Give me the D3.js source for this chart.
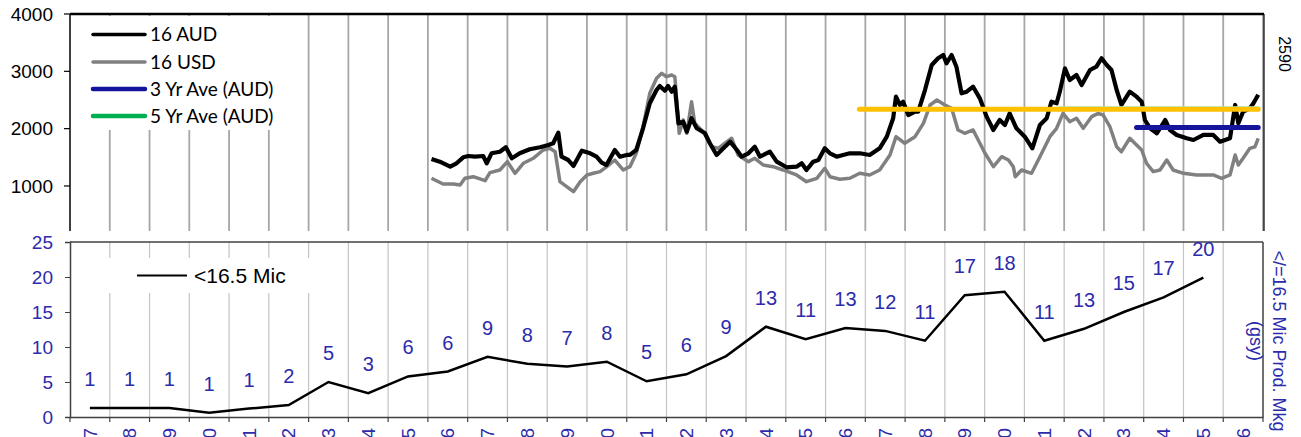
<!DOCTYPE html>
<html>
<head>
<meta charset="utf-8">
<script src="https://cdn.jsdelivr.net/npm/d3@7"></script>
<style>
  body { margin: 0; background: #fff; }
  svg { display: block; }
</style>
</head>
<body>
<div id="chart"></div>
<script>
// Categories (years) for the lower panel and grid
const years = d3.range(1997, 2027);
const yearLabels = years.map(d => String(d));

// Lower panel: <16.5 micron production (mkg, gsy)
const micYears = d3.range(1997, 2026);
const micValues = [1.3, 1.3, 1.3, 0.6, 1.2, 1.7, 5.0, 3.4, 5.8, 6.5, 8.6, 7.6, 7.2, 7.9, 5.1,
  6.1, 8.7, 12.9, 11.1, 12.7, 12.3, 10.9, 17.4, 17.9, 10.9, 12.6, 15.0, 17.1, 19.9];
const micLabels = ["1", "1", "1", "1", "1", "2", "5", "3", "6", "6", "9", "8", "7", "8", "5",
  "6", "9", "13", "11", "13", "12", "11", "17", "18", "11", "13", "15", "17", "20"];

// Upper panel: 16 micron indicator, AUD
const audDates = [2006.09, 2006.30, 2006.56, 2006.72, 2006.89, 2007.02, 2007.18, 2007.39, 2007.48, 2007.60,
  2007.81, 2007.96, 2008.11, 2008.31, 2008.56, 2008.82, 2009.03, 2009.15, 2009.28, 2009.36, 2009.53, 2009.66,
  2009.87, 2010.08, 2010.24, 2010.37, 2010.49, 2010.70, 2010.83, 2011.00, 2011.08, 2011.24, 2011.41, 2011.58,
  2011.75, 2011.83, 2011.96, 2012.04, 2012.13, 2012.21, 2012.30, 2012.42, 2012.51, 2012.63, 2012.76, 2012.97,
  2013.09, 2013.26, 2013.43, 2013.60, 2013.77, 2013.89, 2014.06, 2014.22, 2014.35, 2014.60, 2014.77, 2015.02,
  2015.27, 2015.40, 2015.52, 2015.69, 2015.82, 2015.98, 2016.11, 2016.28, 2016.44, 2016.61, 2016.86, 2017.11,
  2017.36, 2017.54, 2017.70, 2017.77, 2017.87, 2017.95, 2018.08, 2018.25, 2018.33, 2018.50, 2018.67, 2018.83,
  2018.96, 2019.04, 2019.17, 2019.29, 2019.42, 2019.55, 2019.71, 2019.88, 2020.05, 2020.22, 2020.38, 2020.51,
  2020.63, 2020.80, 2021.01, 2021.20, 2021.39, 2021.56, 2021.68, 2021.81, 2021.89, 2022.02, 2022.14, 2022.31,
  2022.44, 2022.65, 2022.81, 2022.94, 2023.07, 2023.19, 2023.32, 2023.44, 2023.65, 2023.82, 2023.95, 2024.03,
  2024.16, 2024.33, 2024.54, 2024.66, 2024.83, 2025.08, 2025.25, 2025.50, 2025.75, 2025.92, 2026.17, 2026.30,
  2026.38, 2026.50, 2026.67, 2026.76, 2026.88];
const audValues = [1471, 1424, 1337, 1396, 1500, 1523, 1511, 1523, 1396, 1570,
  1598, 1675, 1483, 1570, 1640, 1675, 1715, 1745, 1930, 1511, 1453, 1349,
  1616, 1570, 1511, 1406, 1366, 1628, 1511, 1541, 1541, 1628, 2006, 2442,
  2674, 2744, 2662, 2744, 2645, 2732, 2093, 2121, 1947, 2181, 2006, 1919,
  1745, 1541, 1657, 1773, 1628, 1511, 1570, 1685, 1511, 1598, 1424, 1326,
  1337, 1396, 1279, 1424, 1453, 1657, 1570, 1511, 1541, 1570, 1570, 1541,
  1657, 1860, 2181, 2558, 2413, 2470, 2238, 2296, 2296, 2674, 3110, 3227,
  3285, 3140, 3285, 3081, 2617, 2645, 2732, 2529, 2209, 1977, 2151, 2064,
  2267, 2006, 1860, 1657, 2064, 2181, 2470, 2442, 2645, 3052, 2849, 2936,
  2761, 3023, 3081, 3227, 3110, 3023, 2674, 2413, 2645, 2558, 2470, 2151,
  2006, 1919, 2151, 1977, 1890, 1832, 1802, 1890, 1890, 1773, 1832, 2413,
  2093, 2296, 2355, 2442, 2590];

// Upper panel: 16 micron indicator, USD
const usdDates = [2006.09, 2006.38, 2006.64, 2006.81, 2006.93, 2007.14, 2007.44, 2007.56, 2007.81, 2008.00,
  2008.19, 2008.40, 2008.65, 2008.90, 2009.07, 2009.20, 2009.32, 2009.49, 2009.66, 2009.83, 2010.00, 2010.16,
  2010.33, 2010.50, 2010.70, 2010.91, 2011.08, 2011.24, 2011.41, 2011.58, 2011.75, 2011.88, 2012.00, 2012.13,
  2012.21, 2012.32, 2012.42, 2012.51, 2012.63, 2012.71, 2012.92, 2013.14, 2013.30, 2013.47, 2013.64, 2013.80,
  2014.06, 2014.22, 2014.43, 2014.68, 2014.93, 2015.27, 2015.52, 2015.78, 2015.98, 2016.11, 2016.36, 2016.61,
  2016.86, 2017.11, 2017.36, 2017.62, 2017.77, 2017.99, 2018.25, 2018.46, 2018.63, 2018.80, 2019.00, 2019.17,
  2019.33, 2019.50, 2019.71, 2020.01, 2020.22, 2020.43, 2020.60, 2020.72, 2020.77, 2020.93, 2021.18, 2021.39,
  2021.64, 2021.81, 2021.97, 2022.14, 2022.31, 2022.48, 2022.69, 2022.86, 2022.98, 2023.15, 2023.32, 2023.44,
  2023.65, 2023.82, 2023.95, 2024.07, 2024.24, 2024.41, 2024.58, 2024.74, 2025.00, 2025.33, 2025.58, 2025.75,
  2025.96, 2026.17, 2026.30, 2026.38, 2026.50, 2026.67, 2026.80, 2026.88];
const usdValues = [1134, 1035, 1035, 1017, 1134, 1162, 1092, 1232, 1279, 1424,
  1221, 1396, 1483, 1628, 1657, 1598, 1075, 988, 901, 1075, 1192, 1221,
  1250, 1337, 1453, 1279, 1337, 1570, 2034, 2617, 2878, 2965, 2906, 2936,
  2906, 1919, 2151, 1919, 2470, 2093, 1947, 1685, 1657, 1745, 1832, 1541,
  1424, 1483, 1366, 1337, 1279, 1192, 1075, 1134, 1309, 1162, 1117, 1134,
  1221, 1192, 1279, 1541, 1860, 1745, 1860, 2093, 2413, 2500, 2413, 2355,
  1977, 1919, 1977, 1570, 1337, 1511, 1453, 1337, 1162, 1279, 1221, 1511,
  1860, 2006, 2267, 2121, 2181, 2006, 2209, 2267, 2238, 2034, 1685, 1598,
  1832, 1715, 1628, 1396, 1250, 1279, 1453, 1279, 1221, 1192, 1192, 1192,
  1134, 1192, 1541, 1366, 1483, 1657, 1685, 1832];

// Averages: start, end, value (5 yr hidden under 10 yr, 3 yr)
const aveStarts = [2021.88, 2016.85, 2023.82];
const aveEnds = [2026.88, 2026.88, 2026.88];
const aveValues = [2355, 2337, 2020];

const topTicks = [1000, 2000, 3000, 4000];
const bottomTicks = [0, 5, 10, 15, 20, 25];

const W = 1301, H = 437;
const left = 70, right = 1263;
const blue = "#2b2bab";
const numFont = "'Liberation Sans', Arial, sans-serif";

const svg = d3.select("#chart").append("svg")
  .attr("width", W).attr("height", H)
  .style("font-family", numFont);

const xT = d3.scaleLinear().domain([1997, 2027]).range([left, right]);
const xB = d3.scaleBand().domain(years).range([left, right]).padding(0);

// ---------- upper panel ----------
const yT = d3.scaleLinear().domain([0, 4000]).range([243.3, 14]);
const topBottom = 231;

svg.append("defs").append("clipPath").attr("id", "topclip")
  .append("rect").attr("x", 0).attr("y", 0).attr("width", W).attr("height", topBottom);

const gTop = svg.append("g").attr("clip-path", "url(#topclip)");

gTop.selectAll("line.tgrid")
  .data(d3.range(1998, 2028))
  .join("line")
  .attr("class", "tgrid")
  .attr("x1", d => xT(d)).attr("x2", d => xT(d))
  .attr("y1", yT(4000)).attr("y2", topBottom)
  .attr("stroke", "#a6a6a6").attr("stroke-width", 1.8);

// legend background
gTop.append("rect").attr("x", 76).attr("y", 16).attr("width", 214).attr("height", 114).attr("fill", "#fff");

const lineT = (dates, vals) => d3.line().x((d, i) => xT(dates[i])).y(d => yT(d))(vals);

gTop.append("path").attr("d", lineT(usdDates, usdValues))
  .attr("fill", "none").attr("stroke", "#808080").attr("stroke-width", 3.5).attr("stroke-linejoin", "round");
gTop.append("path").attr("d", lineT(audDates, audValues))
  .attr("fill", "none").attr("stroke", "#000").attr("stroke-width", 4.2).attr("stroke-linejoin", "round");

const aveColors = ["#a8e6cf", "#ffc000", "#14149c"];
const aveWidths = [4, 5, 5];
gTop.selectAll("line.ave")
  .data(aveValues)
  .join("line")
  .attr("class", "ave")
  .attr("x1", (d, i) => xT(aveStarts[i])).attr("x2", (d, i) => xT(aveEnds[i]))
  .attr("y1", d => yT(d)).attr("y2", d => yT(d))
  .attr("stroke", (d, i) => aveColors[i]).attr("stroke-width", (d, i) => aveWidths[i])
  .attr("stroke-linecap", "round");

// axes / border
gTop.append("line").attr("x1", left).attr("x2", right + 1).attr("y1", 14).attr("y2", 14)
  .attr("stroke", "#000").attr("stroke-width", 2.5);
gTop.append("line").attr("x1", right + 1).attr("x2", right + 1).attr("y1", 14).attr("y2", topBottom)
  .attr("stroke", "#000").attr("stroke-width", 1.2);
gTop.append("line").attr("x1", left).attr("x2", left).attr("y1", 14).attr("y2", topBottom)
  .attr("stroke", "#000").attr("stroke-width", 1.5);

svg.selectAll("line.ttick")
  .data(topTicks).join("line").attr("class", "ttick")
  .attr("x1", left - 6).attr("x2", left).attr("y1", d => yT(d)).attr("y2", d => yT(d))
  .attr("stroke", "#000").attr("stroke-width", 1.2);
svg.selectAll("text.tticklabel")
  .data(topTicks).join("text").attr("class", "tticklabel")
  .attr("x", 53).attr("y", d => yT(d)).attr("dy", "0.35em")
  .attr("text-anchor", "end").attr("font-size", 19).attr("fill", "#000")
  .text(d => d);

// top legend
const legNames = ["16 AUD", "16 USD", "3 Yr Ave (AUD)", "5 Yr Ave (AUD)"];
const legColors = ["#000", "#808080", "#14149c", "#00b050"];
const legWidths = [3.5, 3.5, 4.5, 4.5];
const legY = [34.5, 62, 89, 116];
const leg = svg.append("g");
leg.selectAll("line").data(legNames).join("line")
  .attr("x1", 93).attr("x2", 145).attr("y1", (d, i) => legY[i]).attr("y2", (d, i) => legY[i])
  .attr("stroke", (d, i) => legColors[i]).attr("stroke-width", (d, i) => legWidths[i])
  .attr("stroke-linecap", "round");
leg.selectAll("text").data(legNames).join("text")
  .attr("x", 150).attr("y", (d, i) => legY[i]).attr("dy", "0.36em")
  .attr("font-family", "Lato, 'Open Sans', sans-serif").attr("font-size", 19).attr("fill", "#000")
  .text(d => d);

// last value label
svg.append("text")
  .attr("transform", `translate(1279,54) rotate(90)`)
  .attr("text-anchor", "middle").attr("font-size", 16).attr("fill", "#000")
  .text(audValues[audValues.length - 1]);

// ---------- lower panel ----------
const yB = d3.scaleLinear().domain([0, 25]).range([417, 242]);
const bot = svg.append("g");

bot.append("rect").attr("x", left).attr("y", topBottom).attr("width", right - left + 2).attr("height", H - topBottom)
  .attr("fill", "#fff");

bot.selectAll("line.bgrid")
  .data(years.slice(1))
  .join("line").attr("class", "bgrid")
  .attr("x1", d => xB(d)).attr("x2", d => xB(d))
  .attr("y1", yB(25)).attr("y2", yB(0))
  .attr("stroke", "#c4c4c4").attr("stroke-width", 1.2);

// legend background
bot.append("rect").attr("x", 76).attr("y", 258).attr("width", 245).attr("height", 35).attr("fill", "#fff");
bot.append("line").attr("x1", 137).attr("x2", 187).attr("y1", 275.5).attr("y2", 275.5)
  .attr("stroke", "#000").attr("stroke-width", 2.2);
bot.append("text").attr("x", 194).attr("y", 275.5).attr("dy", "0.36em")
  .attr("font-size", 21).attr("fill", "#000").text("<16.5 Mic");

// border + axes
bot.append("line").attr("x1", left).attr("x2", right).attr("y1", yB(25)).attr("y2", yB(25))
  .attr("stroke", "#404040").attr("stroke-width", 1.5);
bot.append("line").attr("x1", right).attr("x2", right).attr("y1", yB(25)).attr("y2", yB(0))
  .attr("stroke", "#404040").attr("stroke-width", 1.5);

bot.append("g")
  .attr("transform", `translate(0,${yB(0)})`)
  .call(d3.axisBottom(xB).tickSizeInner(0).tickSizeOuter(0).tickFormat(""))
  .call(g => g.select(".domain").attr("stroke", "#404040").attr("stroke-width", 1.5));
bot.selectAll("line.btick")
  .data(d3.range(1997, 2028)).join("line").attr("class", "btick")
  .attr("x1", d => xT(d)).attr("x2", d => xT(d)).attr("y1", yB(0)).attr("y2", yB(0) + 5)
  .attr("stroke", "#404040").attr("stroke-width", 1.2);

bot.append("g")
  .attr("transform", `translate(${left},0)`)
  .call(d3.axisLeft(yB).tickValues(bottomTicks).tickSize(5).tickPadding(4))
  .call(g => g.select(".domain").attr("stroke", "#404040").attr("stroke-width", 1.5))
  .call(g => g.selectAll(".tick line").attr("stroke", "#404040"))
  .call(g => g.selectAll(".tick text").attr("font-size", 19).attr("fill", blue).attr("font-family", numFont)
    .attr("x", -17));

// rotated year labels (run off the bottom edge, as in the source)
bot.selectAll("text.xl")
  .data(years).join("text").attr("class", "xl")
  .attr("transform", d => `translate(${xB(d) + xB.bandwidth() / 2},428) rotate(-90)`)
  .attr("dy", "0.35em").attr("text-anchor", "end")
  .attr("font-size", 19).attr("fill", blue)
  .text((d, i) => yearLabels[i]);

const micLine = d3.line()
  .x((d, i) => xB(micYears[i]) + xB.bandwidth() / 2)
  .y(d => yB(d));
bot.append("path").attr("d", micLine(micValues))
  .attr("fill", "none").attr("stroke", "#000").attr("stroke-width", 2.5);

bot.selectAll("text.vl")
  .data(micValues).join("text").attr("class", "vl")
  .attr("x", (d, i) => xB(micYears[i]) + xB.bandwidth() / 2)
  .attr("y", d => yB(d) - 29).attr("dy", "0.35em")
  .attr("text-anchor", "middle").attr("font-size", 20).attr("fill", blue)
  .text((d, i) => micLabels[i]);

// right axis title
const rt = bot.append("text")
  .attr("transform", `translate(1273,341) rotate(90)`)
  .attr("text-anchor", "middle").attr("font-size", 18).attr("fill", blue);
rt.append("tspan").attr("x", 0).attr("dy", 0).text("</=16.5 Mic Prod. Mkg");
rt.append("tspan").attr("x", 0).attr("dy", 23).text("(gsy)");
</script>
</body>
</html>
